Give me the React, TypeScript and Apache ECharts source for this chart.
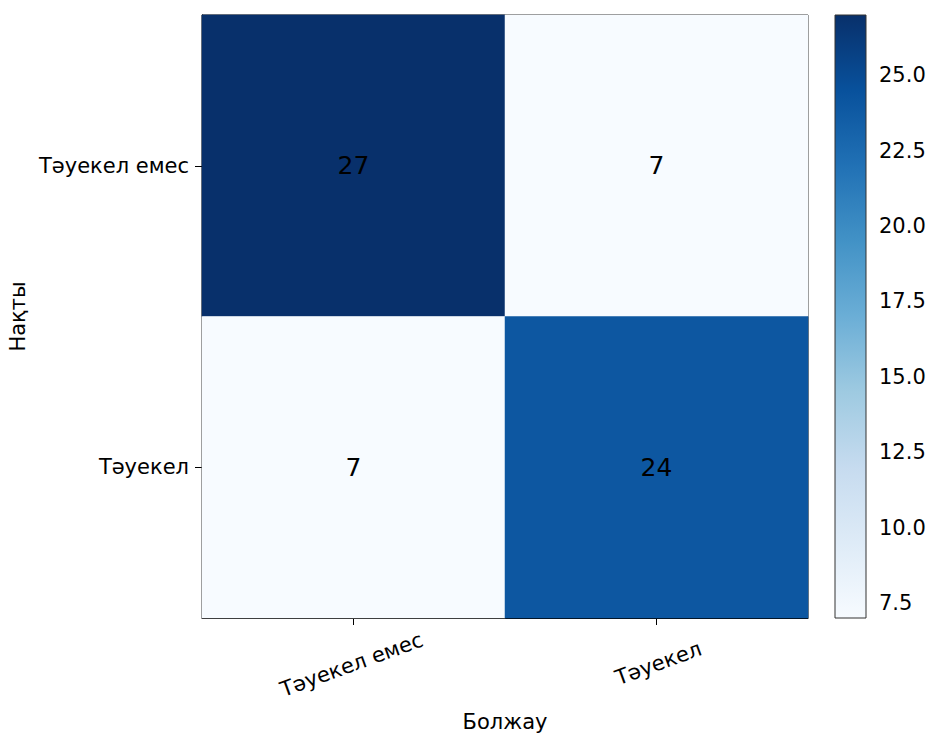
import React, { useEffect, useRef } from "react";
import * as echarts from "echarts";

const predictedLabels = ["Тәуекел емес", "Тәуекел"];
const actualLabels = ["Тәуекел емес", "Тәуекел"];
// rows = actual, cols = predicted
const matrix = [
  [27, 7],
  [7, 24],
];
const colorbarTicks = [7.5, 10, 12.5, 15, 17.5, 20, 22.5, 25];
const xAxisName = "Болжау";
const yAxisName = "Нақты";

const blues = [
  "#f7fbff",
  "#deebf7",
  "#c6dbef",
  "#9ecae1",
  "#6baed6",
  "#4292c6",
  "#2171b5",
  "#08519c",
  "#08306b",
];

const FONT = "DejaVu Sans";
const TICK_FS = 21;

export default function App() {
  const ref = useRef<HTMLDivElement>(null);
  useEffect(() => {
    if (!ref.current) return;
    const chart = echarts.init(ref.current, undefined, { renderer: "svg" });
    const flat = matrix.flat();
    const vmin = Math.min(...flat);
    const vmax = Math.max(...flat);
    const heatData: number[][] = [];
    matrix.forEach((row, r) => row.forEach((v, c) => heatData.push([c, r, v])));

    const gradient = new echarts.graphic.LinearGradient(
      0,
      1,
      0,
      0,
      blues.map((c, i) => ({ offset: i / (blues.length - 1), color: c }))
    );

    const xLabelStyle = (pad: number[]) => ({
      align: "center",
      verticalAlign: "middle",
      padding: pad,
      fontSize: TICK_FS,
      color: "#000",
      fontFamily: FONT,
    });

    chart.setOption({
      animation: false,
      backgroundColor: "#ffffff",
      textStyle: { fontFamily: FONT },
      grid: [
        {
          left: 202,
          top: 15,
          width: 606,
          height: 603,
          show: true,
          borderColor: "#000",
          borderWidth: 1,
          backgroundColor: "transparent",
          outerBoundsMode: "none",
          containLabel: false,
        },
        {
          left: 835,
          top: 15,
          width: 31,
          height: 603,
          outerBoundsMode: "none",
          containLabel: false,
        },
      ],
      xAxis: [
        {
          type: "category",
          gridIndex: 0,
          data: [
            { value: predictedLabels[0], textStyle: xLabelStyle([10, 4, 0, 0]) },
            { value: predictedLabels[1], textStyle: xLabelStyle([0, 0, 10, 4]) },
          ],
          name: xAxisName,
          nameLocation: "middle",
          nameGap: 93,
          nameTextStyle: { fontSize: TICK_FS, color: "#000", fontFamily: FONT },
          axisLine: { show: true, lineStyle: { color: "#000", width: 1 } },
          axisTick: { show: true, alignWithLabel: true, length: 7, lineStyle: { color: "#000" } },
          axisLabel: {
            rotate: 20,
            align: "center",
            verticalAlign: "middle",
            margin: 46,
            fontSize: TICK_FS,
            color: "#000",
            fontFamily: FONT,
          },
          splitLine: { show: false },
        },
        { type: "value", gridIndex: 1, min: 0, max: 1, show: false },
      ],
      yAxis: [
        {
          type: "category",
          gridIndex: 0,
          inverse: true,
          data: actualLabels,
          name: yAxisName,
          nameLocation: "middle",
          nameGap: 172,
          nameRotate: 90,
          nameTextStyle: { fontSize: TICK_FS, color: "#000", fontFamily: FONT },
          axisLine: { show: true, lineStyle: { color: "#000", width: 1 } },
          axisTick: { show: true, alignWithLabel: true, length: 7, lineStyle: { color: "#000" } },
          axisLabel: { margin: 13, fontSize: TICK_FS, color: "#000", fontFamily: FONT },
          splitLine: { show: false },
        },
        {
          type: "value",
          gridIndex: 1,
          position: "right",
          min: vmin,
          max: vmax,
          axisLine: { show: false },
          splitLine: { show: false },
          axisTick: {
            show: true,
            length: 7,
            customValues: colorbarTicks,
            lineStyle: { color: "#000" },
          },
          axisLabel: {
            show: true,
            customValues: colorbarTicks,
            margin: 13,
            fontSize: TICK_FS,
            color: "#000",
            fontFamily: FONT,
            formatter: (v: number) => v.toFixed(1),
          },
        },
      ],
      visualMap: {
        type: "continuous",
        show: false,
        min: vmin,
        max: vmax,
        seriesIndex: 0,
        dimension: 2,
        inRange: { color: blues },
      },
      series: [
        {
          type: "heatmap",
          xAxisIndex: 0,
          yAxisIndex: 0,
          data: heatData,
          label: {
            show: true,
            color: "#000",
            fontSize: 25,
            fontFamily: FONT,
            formatter: (p: any) => String(p.value[2]),
          },
          itemStyle: { borderWidth: 0 },
          emphasis: { disabled: true },
        },
        {
          type: "custom",
          xAxisIndex: 1,
          yAxisIndex: 1,
          data: [[vmin, vmax]],
          encode: { y: [0, 1] },
          renderItem: (params: any, api: any) => {
            const p0 = api.coord([0, api.value(1)]);
            const p1 = api.coord([1, api.value(0)]);
            return {
              type: "rect",
              shape: { x: p0[0], y: p0[1], width: p1[0] - p0[0], height: p1[1] - p0[1] },
              style: { fill: gradient, stroke: "#333", lineWidth: 1 },
            };
          },
          silent: true,
          z: 1,
        },
      ],
    });
    return () => chart.dispose();
  }, []);
  return (
    <div
      ref={ref}
      style={{ position: "absolute", left: 0, top: 0, width: 928, height: 733 }}
    />
  );
}
